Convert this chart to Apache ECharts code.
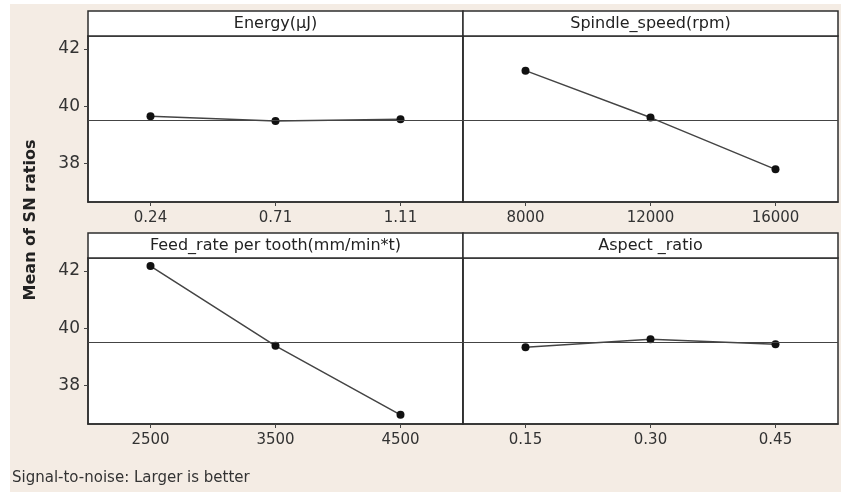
<!DOCTYPE html>
<html>
<head>
<meta charset="utf-8">
<title>Main Effects Plot for SN ratios</title>
<script src="https://cdn.jsdelivr.net/npm/echarts@6.0.0/dist/echarts.min.js"></script>
<style>
	html, body { margin: 0; padding: 0; background: #fff; }
	#main { position: absolute; left: 10px; top: 4px; width: 831px; height: 488px; }
</style>
</head>
<body>
<div id="main"></div>
<script>
// panel strip titles
var factorNames = ['Energy(μJ)', 'Spindle_speed(rpm)', 'Feed_rate per tooth(mm/min*t)', 'Aspect _ratio'];

// factor levels (x categories)
var energyLevels = ['0.24', '0.71', '1.11'];
var spindleLevels = ['8000', '12000', '16000'];
var feedLevels = ['2500', '3500', '4500'];
var aspectLevels = ['0.15', '0.30', '0.45'];

// mean of SN ratios for each level
var energySN = [39.65, 39.48, 39.54];
var spindleSN = [41.24, 39.60, 37.79];
var feedSN = [42.17, 39.38, 36.97];
var aspectSN = [39.33, 39.61, 39.44];

// y tick labels
var yTicks = [38, 40, 42];

var chart = echarts.init(document.getElementById('main'));

var font = 'DejaVu Sans';
var levels = [energyLevels, spindleLevels, feedLevels, aspectLevels];
var values = [energySN, spindleSN, feedSN, aspectSN];

//grand mean -> reference line
var all = [].concat(energySN, spindleSN, feedSN, aspectSN);
var grandMean = 0;
for(var i = 0; i < all.length; i++) {
	grandMean += all[i];
}
grandMean = grandMean / all.length;

//panel layout
var panelLeft = [78, 453, 78, 453];
var panelTop = [32, 32, 254, 254];
var panelW = 375;
var plotH = 166;
var stripH = 25;
var frameColor = '#2e2e2e';

var grids = [], xAxes = [], yAxes = [], series = [], graphics = [];

for(var k = 0; k < 4; k++) {
	var isLeft = (k % 2 === 0);
	grids.push({
		left: panelLeft[k],
		top: panelTop[k],
		width: panelW,
		height: plotH,
		show: true,
		backgroundColor: '#fff',
		borderColor: frameColor,
		borderWidth: 1.5
	});
	xAxes.push({
		type: 'category',
		gridIndex: k,
		data: levels[k],
		boundaryGap: true,
		axisLine: { show: true, lineStyle: { color: frameColor, width: 1.5 } },
		axisTick: { show: true, alignWithLabel: true, length: 4, lineStyle: { color: '#444' } },
		axisLabel: { color: '#333', fontSize: 15, margin: 9, fontFamily: font },
		splitLine: { show: false }
	});
	yAxes.push({
		type: 'value',
		gridIndex: k,
		min: 36.65,
		max: 42.45,
		axisLine: { show: true, lineStyle: { color: frameColor, width: 1.5 } },
		axisTick: { show: isLeft, length: 4, customValues: yTicks, lineStyle: { color: '#444' } },
		axisLabel: { show: isLeft, customValues: yTicks, color: '#333', fontSize: 17, margin: 8, fontFamily: font },
		splitLine: { show: false }
	});
	series.push({
		type: 'line',
		xAxisIndex: k,
		yAxisIndex: k,
		data: values[k],
		symbol: 'circle',
		symbolSize: 8,
		itemStyle: { color: '#111' },
		lineStyle: { color: '#444', width: 1.5 },
		markLine: {
			silent: true,
			symbol: 'none',
			label: { show: false },
			lineStyle: { color: '#444', width: 1.2, type: 'solid' },
			data: [{ yAxis: grandMean }]
		}
	});
	//title strip
	graphics.push({
		type: 'rect',
		shape: { x: panelLeft[k], y: panelTop[k] - stripH, width: panelW, height: stripH },
		style: { fill: '#fff', stroke: frameColor, lineWidth: 1.5 }
	});
	graphics.push({
		type: 'text',
		x: panelLeft[k] + panelW / 2,
		y: panelTop[k] - stripH / 2,
		style: {
			text: factorNames[k],
			fill: '#222',
			font: '16px "' + font + '"',
			textAlign: 'center',
			textVerticalAlign: 'middle'
		}
	});
}

//y axis name
graphics.push({
	type: 'text',
	x: 21,
	y: 216,
	rotation: Math.PI / 2,
	style: {
		text: 'Mean of SN ratios',
		fill: '#222',
		font: 'bold 16px "' + font + '"',
		textAlign: 'center',
		textVerticalAlign: 'middle'
	}
});

//footnote
graphics.push({
	type: 'text',
	x: 2,
	y: 474,
	style: {
		text: 'Signal-to-noise: Larger is better',
		fill: '#333',
		font: '15px "' + font + '"',
		textAlign: 'left',
		textVerticalAlign: 'middle'
	}
});

var option = {
	backgroundColor: '#f4ece4',
	animation: false,
	grid: grids,
	xAxis: xAxes,
	yAxis: yAxes,
	series: series,
	graphic: graphics
};

chart.setOption(option);
</script>
</body>
</html>
